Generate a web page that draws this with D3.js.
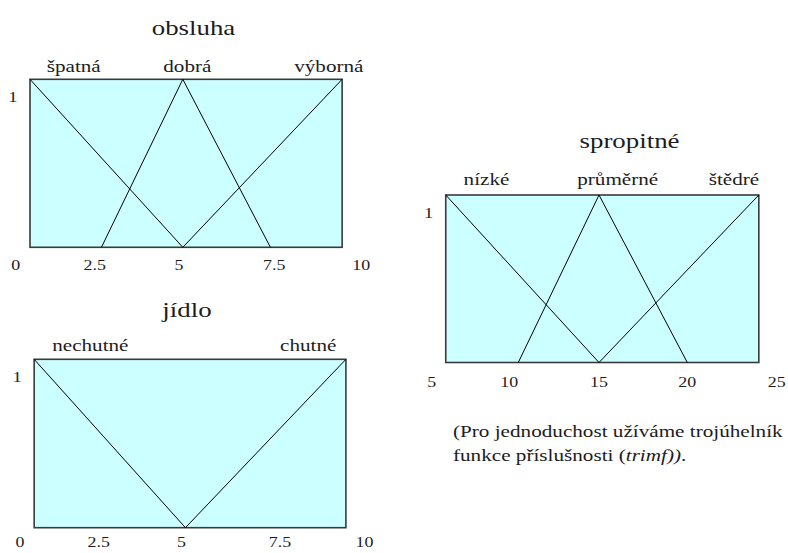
<!DOCTYPE html>
<html>
<head>
<meta charset="utf-8">
<script src="https://cdn.jsdelivr.net/npm/d3@7"></script>
<style>
    body { margin: 0; background: #fff; }
    svg text { font-family: "Liberation Serif", "Times New Roman", serif; fill: #1c1c1c; }
</style>
</head>
<body>
<svg id="chart" width="788" height="553"></svg>
<script>
// obsluha
const obsluhaTicks = [0, 2.5, 5, 7.5, 10];
const obsluhaDomain = [0.45, 9.45];
const obsluhaSets = ['špatná', 'dobrá', 'výborná'];
const obsluhaShapes = [
    [[0.45, 1], [5.1, 0]],
    [[2.7, 0], [5.1, 1], [7.4, 0]],
    [[5.1, 0], [9.45, 1]]
];

// jídlo
const jidloTicks = [0, 2.5, 5, 7.5, 10];
const jidloDomain = [0.45, 9.45];
const jidloSets = ['nechutné', 'chutné'];
const jidloShapes = [
    [[0.45, 1], [5.1, 0]],
    [[5.1, 0], [9.45, 1]]
];

// spropitné
const spropitneTicks = [5, 10, 15, 20, 25];
const spropitneDomain = [5.9, 24];
const spropitneSets = ['nízké', 'průměrné', 'štědré'];
const spropitneShapes = [
    [[5.9, 1], [15, 0]],
    [[10.5, 0], [15, 1], [20, 0]],
    [[15, 0], [24, 1]]
];

const footnote = ['(Pro jednoduchost užíváme trojúhelník', 'funkce příslušnosti (', 'trimf))', '.'];

// the source text is drawn wide, so every label gets the same horizontal stretch
const stretch = 1.28;

const charts = [
    {title: 'obsluha', ticks: obsluhaTicks, domain: obsluhaDomain, sets: obsluhaSets, shapes: obsluhaShapes,
     tickPos: [15.8, 94.7, 179, 274.2, 361.3], top: 79.3, bottom: 247.3,
     titleX: 193.5, titleY: 35, labelDx: [43.7, 4.5, -13.3], labelY: 72, tickY: 269.5},
    {title: 'jídlo', ticks: jidloTicks, domain: jidloDomain, sets: jidloSets, shapes: jidloShapes,
     tickPos: [20, 98.7, 181.5, 280, 364.5], top: 359.3, bottom: 527.7,
     titleX: 187, titleY: 317, labelDx: [56.2, -37.7], labelY: 351, tickY: 547},
    {title: 'spropitné', ticks: spropitneTicks, domain: spropitneDomain, sets: spropitneSets, shapes: spropitneShapes,
     tickPos: [431.8, 509.3, 599, 687.3, 776.7], top: 195, bottom: 362.5,
     titleX: 629.5, titleY: 148.3, labelDx: [40.7, 18.7, -24.9], labelY: 185, tickY: 386.5}
];

let svg = d3.select('#chart');

function stretchedText(g, x, y, txt, size, anchor) {
    return g.append('text')
        .attr('transform', `translate(${x},${y}) scale(${stretch},1)`)
        .attr('text-anchor', anchor || 'middle')
        .style('font-size', size + 'px')
        .text(txt);
}

function drawChart(c) {
    let x = d3.scaleLinear()
        .domain(c.ticks)
        .range(c.tickPos);

    let y = d3.scaleLinear()
        .domain([0, 1])
        .range([c.bottom, c.top]);

    let g = svg.append('g').attr('class', 'chart');

    g.append('rect')
        .attr('x', x(c.domain[0]))
        .attr('y', y(1))
        .attr('width', x(c.domain[1]) - x(c.domain[0]))
        .attr('height', y(0) - y(1))
        .style('fill', '#ccffff')
        .style('stroke', '#3a3a3a')
        .style('stroke-width', 1.6);

    let line = d3.line()
        .x(d => x(d[0]))
        .y(d => y(d[1]));

    g.selectAll('path.mf')
        .data(c.shapes)
        .join('path')
            .attr('class', 'mf')
            .attr('d', line)
            .style('fill', 'none')
            .style('stroke', '#000')
            .style('stroke-width', 1);

    // set names sit above the peak of each triangle
    c.shapes.forEach((s, i) => {
        let peak = s.find(p => p[1] === 1)[0];
        stretchedText(g, x(peak) + c.labelDx[i], c.labelY, c.sets[i], 16.5);
    });

    stretchedText(g, c.titleX, c.titleY, c.title, 21);

    c.ticks.forEach(t => stretchedText(g, x(t), c.tickY, t, 14));

    stretchedText(g, x(c.domain[0]) - 17, y(1) + 23, 1, 14.5);
}

charts.forEach(drawChart);

// note under the tip chart
let note = svg.append('g')
    .attr('transform', `translate(453,0) scale(1.245,1)`)
    .style('font-size', '17px');

note.append('text')
    .attr('y', 437)
    .text(footnote[0]);

let line2 = note.append('text')
    .attr('y', 461);
line2.append('tspan').text(footnote[1]);
line2.append('tspan').style('font-style', 'italic').text(footnote[2]);
line2.append('tspan').text(footnote[3]);
</script>
</body>
</html>
